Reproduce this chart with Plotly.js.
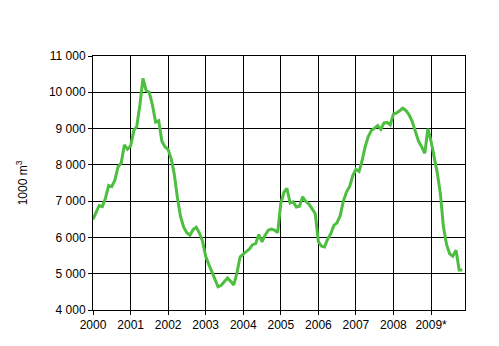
<!DOCTYPE html>
<html>
<head>
<meta charset="utf-8">
<script src="https://cdn.plot.ly/plotly-3.0.1.min.js"></script>
<style>html,body{margin:0;padding:0;background:#fff;}#chart{width:499px;height:346px;}</style>
</head>
<body>
<div id="chart"></div>
<script>
// Monthly values, January 2000 onwards (1000 m3)
const values = [
  6500, 6680, 6880, 6850, 7080, 7430, 7400, 7580, 7950, 8050, 8550, 8430,
  8520, 8950, 9050, 9650, 10380, 10050, 10000, 9650, 9180, 9220, 8650, 8500,
  8420, 8150, 7750, 7100, 6580, 6280, 6130, 6060, 6220, 6280, 6120, 5900,
  5480, 5250, 5050, 4830, 4640, 4680, 4780, 4880, 4790, 4690, 5020, 5460,
  5540, 5600, 5680, 5800, 5830, 6080, 5880, 6060, 6200, 6230, 6200, 6130,
  6950, 7250, 7350, 6950, 6980, 6840, 6860, 7120, 6990, 6920, 6780, 6660,
  5880, 5760, 5740, 5950, 6100, 6330, 6400, 6600, 7000, 7250, 7400, 7700,
  7880, 7820, 8100, 8500, 8780, 8950, 9010, 9080, 8980, 9160, 9170, 9100,
  9400, 9430, 9490, 9560, 9500, 9380, 9200, 8950, 8650, 8500, 8320, 9000,
  8650, 8200, 7800, 7220, 6300, 5800, 5550, 5480, 5650, 5100, 5100
];
const startYear = 2000;
const yearTicks = ["2000","2001","2002","2003","2004","2005","2006","2007","2008","2009*"];
const yTickVals = [4000,5000,6000,7000,8000,9000,10000,11000];
const yTickText = ["4 000","5 000","6 000","7 000","8 000","9 000","10 000","11 000"];

const months = values.map((v, i) => {
  const y = startYear + Math.floor(i / 12);
  const m = (i % 12) + 1;
  return y + "-" + (m < 10 ? "0" + m : m) + "-01";
});
const tickVals = yearTicks.map((t, i) => (startYear + i) + "-01-01");

Plotly.newPlot("chart", [{
  x: months,
  y: values,
  type: "scatter",
  mode: "lines",
  line: {color: "#4DBE3F", width: 3},
  hoverinfo: "skip"
}], {
  width: 499, height: 346,
  margin: {l: 93, r: 34, t: 56, b: 36},
  paper_bgcolor: "#fff", plot_bgcolor: "#fff",
  showlegend: false,
  font: {family: "Liberation Sans, Arial, sans-serif", size: 12, color: "#000"},
  xaxis: {
    type: "date",
    range: ["2000-01-01", "2009-11-27"],
    tickvals: tickVals, ticktext: yearTicks,
    showgrid: true, gridcolor: "#000", gridwidth: 1,
    showline: true, linecolor: "#000", linewidth: 1, mirror: true,
    ticks: "outside", ticklen: 4, tickcolor: "#000",
    zeroline: false, tickangle: 0,
    tickfont: {size: 12}
  },
  yaxis: {
    range: [4000, 11000],
    tickvals: yTickVals, ticktext: yTickText,
    showgrid: true, gridcolor: "#000", gridwidth: 1,
    showline: true, linecolor: "#000", linewidth: 1, mirror: true,
    ticks: "outside", ticklen: 4, tickcolor: "#000",
    zeroline: false,
    tickfont: {size: 12},
    title: {text: "1000 m<sup>3</sup>", font: {size: 12}, standoff: 18}
  }
}, {staticPlot: true, displayModeBar: false});
</script>
</body>
</html>
